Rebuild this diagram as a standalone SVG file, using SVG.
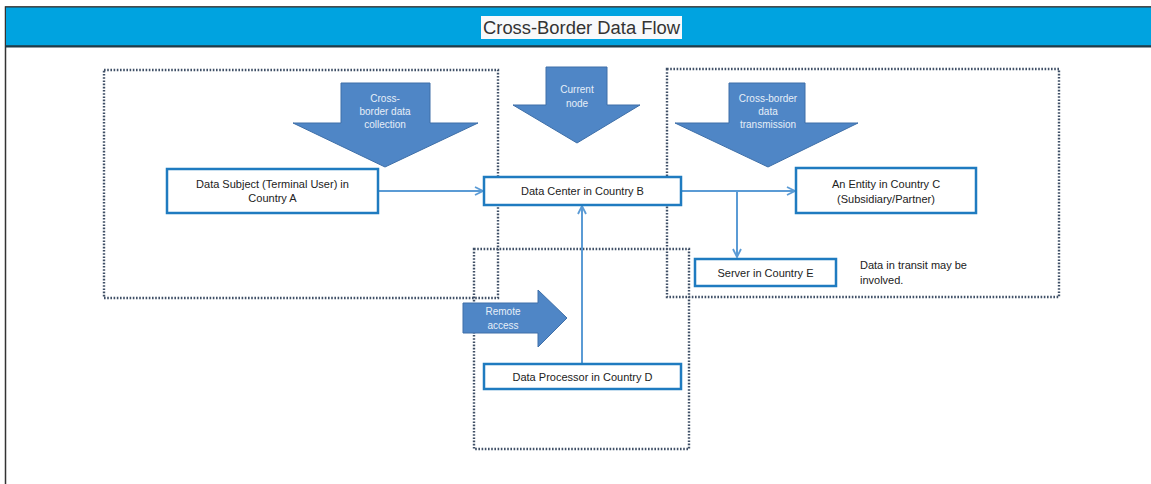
<svg xmlns="http://www.w3.org/2000/svg" width="1151" height="484" viewBox="0 0 1151 484">
<style>
.frame{fill:#fff;stroke:#333;stroke-width:1.5}
.title{font-family:"Liberation Sans",Arial,sans-serif;font-size:18px;fill:#333;text-anchor:middle}
.zone{fill:none;stroke:#3f4f66;stroke-width:2.4;stroke-dasharray:1.6 1.6}
.big{fill:#4f86c6;stroke:#3e6fa8;stroke-width:1}
.bt{font-family:"Liberation Sans",Arial,sans-serif;font-size:10px;fill:#e6eef8;text-anchor:middle}
.node{fill:#fff;stroke:#1f7bc0;stroke-width:2.5}
.nt{font-family:"Liberation Sans",Arial,sans-serif;font-size:11px;fill:#222;text-anchor:middle}
.note{font-family:"Liberation Sans",Arial,sans-serif;font-size:11px;fill:#222}
.conn{fill:none;stroke:#5b9bd5;stroke-width:2}
</style>
<defs>
<marker id="ah" viewBox="0 0 10 10" refX="9" refY="5" markerWidth="10" markerHeight="10" markerUnits="userSpaceOnUse" orient="auto">
<path d="M1,1 L9,5 L1,9" fill="none" stroke="#5b9bd5" stroke-width="1.8"/>
</marker>
</defs>
<rect width="1151" height="484" fill="#fff"/>
<rect class="frame" x="5.5" y="7" width="1200" height="520"/>
<rect x="5.5" y="7" width="1200" height="39" fill="#00a3e0" stroke="#333" stroke-width="1"/>
<line x1="5.5" y1="46.5" x2="1151" y2="46.5" stroke="#1e3a48" stroke-width="2"/>
<g id="title">
<rect x="481" y="16" width="201" height="23" fill="#f8f9fb"/>
<text class="title" x="581.5" y="34" textLength="197" lengthAdjust="spacingAndGlyphs">Cross-Border Data Flow</text>
</g>
<g id="zones">
<rect class="zone" x="104" y="70" width="394" height="228"/>
<rect class="zone" x="667" y="69" width="392" height="228"/>
<rect class="zone" x="474" y="249" width="215" height="200"/>
</g>
<g id="arrow-collection">
<polygon class="big" points="341,83 430,83 430,123 478,123 385,167 293,123 341,123"/>
<text class="bt" x="385" y="102">Cross-</text>
<text class="bt" x="385" y="115">border data</text>
<text class="bt" x="385" y="128">collection</text>
</g>
<g id="arrow-current">
<polygon class="big" points="546,67 607,67 607,105 640,105 577,143 513,105 546,105"/>
<text class="bt" x="577" y="93">Current</text>
<text class="bt" x="577" y="107">node</text>
</g>
<g id="arrow-transmission">
<polygon class="big" points="729,83 805,83 805,123 858,123 768,167 675,123 729,123"/>
<text class="bt" x="768" y="102">Cross-border</text>
<text class="bt" x="768" y="115">data</text>
<text class="bt" x="768" y="128">transmission</text>
</g>
<g id="arrow-remote">
<polygon class="big" points="463,303 538,303 538,290 567,318 538,347 538,333 463,333"/>
<text class="bt" x="503" y="315">Remote</text>
<text class="bt" x="503" y="329">access</text>
</g>
<g id="connectors">
<line class="conn" x1="378" y1="191" x2="483" y2="191" marker-end="url(#ah)"/>
<line class="conn" x1="681" y1="191" x2="795" y2="191" marker-end="url(#ah)"/>
<line class="conn" x1="737" y1="191" x2="737" y2="257" marker-end="url(#ah)"/>
<line class="conn" x1="582" y1="364" x2="582" y2="206" marker-end="url(#ah)"/>
</g>
<g id="node-a">
<rect class="node" x="167" y="169" width="211" height="44"/>
<text class="nt" x="272.5" y="188">Data Subject (Terminal User) in</text>
<text class="nt" x="272.5" y="202">Country A</text>
</g>
<g id="node-b">
<rect class="node" x="484" y="177" width="197" height="28"/>
<text class="nt" x="582.5" y="195">Data Center in Country B</text>
</g>
<g id="node-c">
<rect class="node" x="796" y="168" width="180" height="45"/>
<text class="nt" x="886" y="188">An Entity in Country C</text>
<text class="nt" x="886" y="203">(Subsidiary/Partner)</text>
</g>
<g id="node-e">
<rect class="node" x="695" y="259" width="141" height="27"/>
<text class="nt" x="765.5" y="277">Server in Country E</text>
</g>
<g id="node-d">
<rect class="node" x="484" y="364" width="197" height="25"/>
<text class="nt" x="582.5" y="381">Data Processor in Country D</text>
</g>
<g id="note">
<text class="note" x="860" y="269">Data in transit may be</text>
<text class="note" x="860" y="284">involved.</text>
</g>
</svg>
